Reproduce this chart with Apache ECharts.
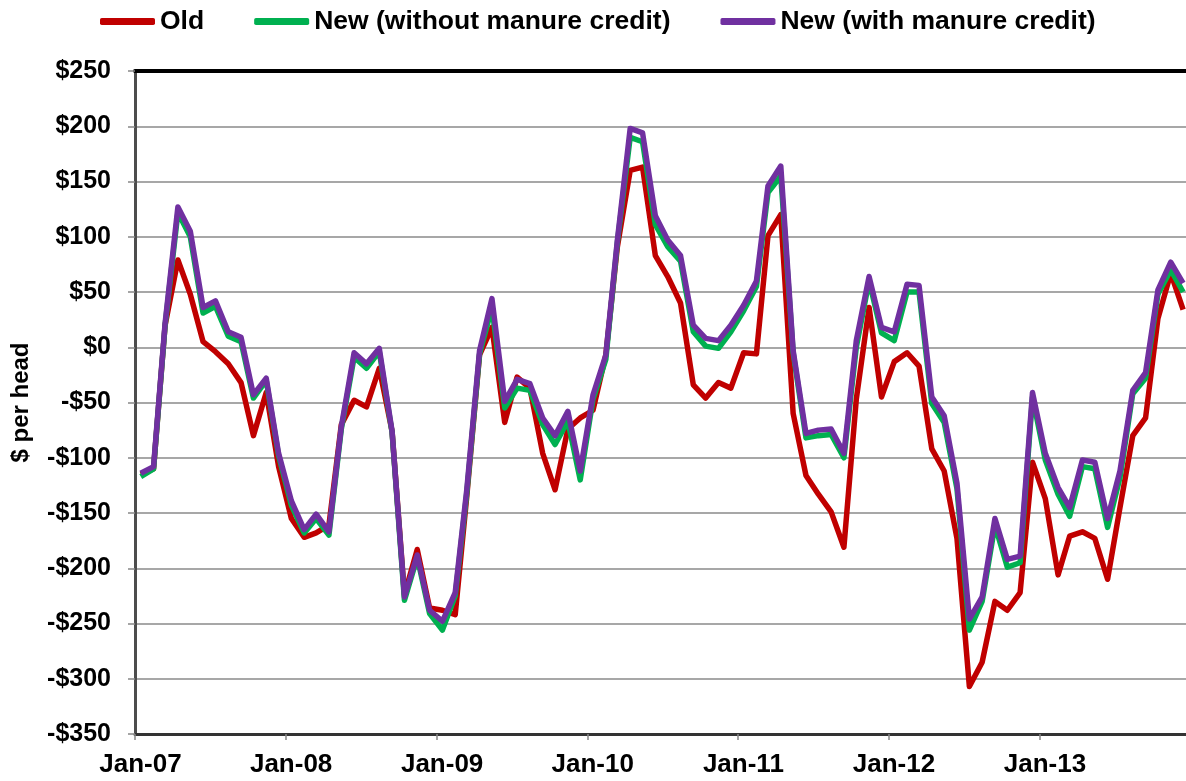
<!DOCTYPE html>
<html>
<head>
<meta charset="utf-8">
<script src="https://cdn.jsdelivr.net/npm/echarts@6/dist/echarts.min.js"></script>
<style>
html,body{margin:0;padding:0;background:#fff;}
#chart{width:1186px;height:781px;}
</style>
</head>
<body>
<div id="chart"></div>
<script>
// Monthly observations (mid-month), Jan 2007 - Dec 2013
var startYear = 2007, endYear = 2013;
var months = [];
for (var y = startYear; y <= endYear; y++) {
  for (var m = 1; m <= 12; m++) {
    months.push(y + '-' + (m < 10 ? '0' + m : m) + '-15');
  }
}
var monthNames = ['Jan','Feb','Mar','Apr','May','Jun','Jul','Aug','Sep','Oct','Nov','Dec'];
var seriesNames = ['Old', 'New (without manure credit)', 'New (with manure credit)'];

var oldValues = [
  -115,-110,20,79,48,5,-4,-15,-32,-80,-41,-108,
  -155,-172,-168,-161,-70,-48,-54,-19,-76,-224,-183,-236,
  -238,-242,-135,-7,18,-68,-27,-37,-96,-129,-74,-64,
  -57,-7,91,160,163,83,64,40,-34,-46,-32,-37,
  -5,-6,101,120,-60,-116,-133,-149,-181,-47,36,-45,
  -13,-5,-17,-92,-112,-173,-307,-285,-230,-238,-222,-104,
  -137,-206,-171,-167,-173,-210,-145,-80,-64,26,67,34
];
var newNoCredit = [
  -117,-110,20,122,100,31,37,10,5,-46,-30,-98,
  -143,-168,-155,-170,-74,-9,-19,-4,-77,-229,-190,-241,
  -256,-225,-132,-6,36,-55,-37,-39,-70,-88,-67,-120,
  -47,-11,95,190,186,111,91,78,14,1,-1,14,
  33,55,140,155,-5,-82,-80,-79,-100,0,60,13,
  6,50,50,-51,-68,-128,-256,-230,-161,-199,-195,-45,
  -102,-133,-153,-108,-110,-163,-118,-42,-28,48,70,50
];
var newWithCredit = [
  -114,-108,22,127,105,36,42,14,9,-43,-28,-96,
  -139,-165,-151,-167,-72,-5,-15,-1,-76,-226,-188,-238,
  -248,-222,-129,-3,44,-49,-29,-33,-64,-80,-58,-112,
  -43,-7,97,198,194,119,97,83,20,8,6,20,
  38,60,146,164,-3,-78,-75,-74,-96,6,64,18,
  14,57,56,-45,-62,-123,-246,-226,-155,-192,-189,-41,
  -96,-127,-145,-102,-104,-155,-112,-39,-23,52,77,58
];
var yMin = -350, yMax = 250, yStep = 50;
var xMin = '2007-01-01', xMax = '2013-12-22';

function pairs(vals) {
  return vals.map(function (v, i) { return [months[i], v]; });
}

var chart = echarts.init(document.getElementById('chart'), null, {renderer: 'canvas'});
var FONT = 'Liberation Sans, Arial, sans-serif';
var colors = ['#C00000', '#00B050', '#7030A0'];
var dayMs = 24 * 3600 * 1000;

chart.setOption({
  animation: false,
  color: colors,
  textStyle: {fontFamily: FONT},
  legend: {
    left: 100,
    top: 8,
    padding: 0,
    itemGap: 50,
    itemWidth: 55,
    itemHeight: 7,
    icon: 'roundRect',
    textStyle: {fontFamily: FONT, fontSize: 26.5, fontWeight: 'bold', color: '#000'},
    data: seriesNames
  },
  grid: {left: 135, right: 0, top: 71, bottom: 47, containLabel: false},
  xAxis: [{
    type: 'time',
    min: xMin,
    max: xMax,
    minInterval: 365 * dayMs,
    maxInterval: 367 * dayMs,
    axisLine: {show: true, onZero: false, lineStyle: {color: '#333', width: 3}},
    axisTick: {show: true, length: 6, lineStyle: {color: '#888', width: 1.5}},
    splitLine: {show: false},
    axisLabel: {
      show: true,
      margin: 18,
      padding: [0, 0, 0, 11],
      showMinLabel: true,
      hideOverlap: false,
      fontFamily: FONT,
      fontSize: 26,
      fontWeight: 'bold',
      color: '#000',
      formatter: function (val) {
        var d = new Date(val);
        return monthNames[d.getMonth()] + '-' + String(d.getFullYear()).slice(2);
      }
    }
  }, {
    type: 'time',
    position: 'top',
    min: xMin,
    max: xMax,
    axisLine: {show: true, onZero: false, lineStyle: {color: '#000', width: 4}},
    axisTick: {show: false},
    axisLabel: {show: false},
    splitLine: {show: false}
  }],
  yAxis: {
    type: 'value',
    min: yMin,
    max: yMax,
    interval: yStep,
    name: '$ per head',
    nameLocation: 'middle',
    nameRotate: 90,
    nameGap: 102,
    nameTextStyle: {fontFamily: FONT, fontSize: 24, fontWeight: 'bold', color: '#000'},
    axisLine: {show: true, lineStyle: {color: '#4d4d4d', width: 3}},
    axisTick: {show: true, length: 7, lineStyle: {color: '#888', width: 1.5}},
    splitLine: {show: true, lineStyle: {color: '#8a8a8a', width: 1.5}},
    axisLabel: {
      margin: 24,
      fontFamily: FONT,
      fontSize: 25,
      fontWeight: 'bold',
      color: '#000',
      formatter: function (v) { return v < 0 ? '-$' + Math.abs(v) : '$' + v; }
    }
  },
  series: [
    {name: seriesNames[0], type: 'line', symbol: 'none', data: pairs(oldValues),
     lineStyle: {width: 5.5, color: colors[0], join: 'round'}},
    {name: seriesNames[1], type: 'line', symbol: 'none', data: pairs(newNoCredit),
     lineStyle: {width: 5.5, color: colors[1], join: 'round'}},
    {name: seriesNames[2], type: 'line', symbol: 'none', data: pairs(newWithCredit),
     lineStyle: {width: 5.5, color: colors[2], join: 'round'}}
  ]
});
</script>
</body>
</html>
